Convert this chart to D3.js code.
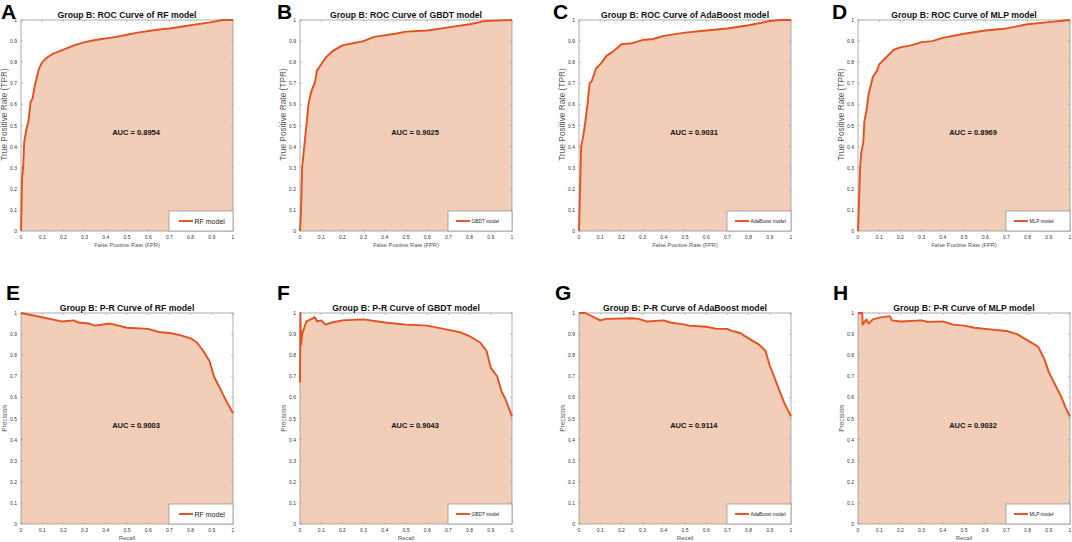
<!DOCTYPE html>
<html>
<head>
<meta charset="utf-8">
<script src="https://cdn.jsdelivr.net/npm/d3@7"></script>
<style>
  body { margin: 0; background: #fff; }
  svg { display: block; font-family: "Liberation Sans", Arial, sans-serif; }
</style>
</head>
<body>
<div id="chart"></div>
<script>
// ---- data: [x, y] points ----
const rocRF = [[0,0],[0.005,0.25],[0.01,0.3],[0.015,0.42],[0.025,0.48],[0.035,0.52],[0.045,0.61],[0.055,0.63],[0.065,0.69],[0.075,0.73],[0.085,0.77],[0.1,0.8],[0.12,0.82],[0.15,0.84],[0.2,0.86],[0.25,0.88],[0.3,0.895],[0.35,0.905],[0.45,0.92],[0.5,0.93],[0.55,0.94],[0.65,0.955],[0.7,0.96],[0.8,0.975],[0.9,0.99],[0.95,1],[1,1]];
const rocGBDT = [[0,0],[0.005,0.1],[0.01,0.3],[0.02,0.4],[0.03,0.5],[0.04,0.6],[0.05,0.65],[0.06,0.68],[0.07,0.7],[0.08,0.76],[0.1,0.79],[0.12,0.82],[0.15,0.85],[0.2,0.88],[0.25,0.89],[0.3,0.9],[0.35,0.92],[0.45,0.935],[0.5,0.945],[0.6,0.95],[0.7,0.965],[0.8,0.98],[0.87,0.995],[1,1]];
const rocAda = [[0,0],[0.005,0.2],[0.01,0.4],[0.02,0.45],[0.03,0.52],[0.04,0.6],[0.05,0.7],[0.06,0.71],[0.08,0.77],[0.1,0.79],[0.13,0.83],[0.16,0.85],[0.2,0.885],[0.25,0.89],[0.3,0.905],[0.35,0.91],[0.4,0.925],[0.5,0.94],[0.6,0.95],[0.7,0.96],[0.8,0.975],[0.9,0.995],[0.95,1],[1,1]];
const rocMLP = [[0,0],[0.005,0.15],[0.01,0.3],[0.015,0.37],[0.025,0.42],[0.03,0.52],[0.04,0.57],[0.05,0.65],[0.06,0.69],[0.07,0.73],[0.09,0.76],[0.1,0.79],[0.13,0.82],[0.17,0.86],[0.2,0.87],[0.25,0.88],[0.3,0.895],[0.35,0.9],[0.4,0.915],[0.5,0.935],[0.6,0.95],[0.7,0.96],[0.8,0.98],[0.9,0.99],[1,1]];

const prRF = [[0,1],[0.1,0.98],[0.19,0.96],[0.25,0.965],[0.27,0.955],[0.32,0.95],[0.35,0.94],[0.42,0.95],[0.5,0.93],[0.6,0.925],[0.65,0.91],[0.7,0.905],[0.75,0.895],[0.8,0.88],[0.83,0.86],[0.86,0.82],[0.89,0.77],[0.91,0.7],[0.93,0.66],[0.95,0.62],[0.97,0.58],[1,0.525]];
const prGBDT = [[0,0.67],[0.002,1],[0.005,0.85],[0.01,0.9],[0.03,0.96],[0.06,0.975],[0.07,0.98],[0.08,0.96],[0.1,0.965],[0.12,0.945],[0.15,0.955],[0.2,0.965],[0.3,0.97],[0.4,0.955],[0.5,0.945],[0.6,0.94],[0.7,0.92],[0.75,0.91],[0.8,0.89],[0.85,0.86],[0.88,0.82],[0.9,0.74],[0.93,0.7],[0.95,0.63],[0.97,0.59],[1,0.51]];
const prAda = [[0,1],[0.03,1],[0.1,0.965],[0.13,0.972],[0.25,0.975],[0.28,0.972],[0.32,0.96],[0.4,0.965],[0.43,0.955],[0.5,0.945],[0.52,0.94],[0.6,0.935],[0.65,0.925],[0.7,0.925],[0.72,0.915],[0.76,0.905],[0.8,0.88],[0.85,0.85],[0.88,0.82],[0.9,0.75],[0.92,0.7],[0.95,0.62],[0.97,0.57],[1,0.51]];
const prMLP = [[0,1],[0.02,1],[0.022,0.945],[0.04,0.97],[0.05,0.95],[0.07,0.97],[0.1,0.978],[0.15,0.985],[0.16,0.965],[0.2,0.96],[0.3,0.965],[0.33,0.958],[0.4,0.96],[0.45,0.945],[0.5,0.94],[0.55,0.93],[0.6,0.925],[0.7,0.915],[0.75,0.9],[0.8,0.87],[0.85,0.84],[0.88,0.78],[0.9,0.72],[0.93,0.66],[0.96,0.6],[0.98,0.55],[1,0.51]];

const models = ["RF", "GBDT", "AdaBoost", "MLP"];
const rocAUC = ["0.8954", "0.9025", "0.9031", "0.8969"];
const prAUC = ["0.9003", "0.9043", "0.9114", "0.9032"];
const tickValues = [0, 0.1, 0.2, 0.3, 0.4, 0.5, 0.6, 0.7, 0.8, 0.9, 1];

const panels = [
  { letter: "A", kind: "ROC", model: 0, data: rocRF, auc: rocAUC[0] },
  { letter: "B", kind: "ROC", model: 1, data: rocGBDT, auc: rocAUC[1] },
  { letter: "C", kind: "ROC", model: 2, data: rocAda, auc: rocAUC[2] },
  { letter: "D", kind: "ROC", model: 3, data: rocMLP, auc: rocAUC[3] },
  { letter: "E", kind: "P-R", model: 0, data: prRF, auc: prAUC[0] },
  { letter: "F", kind: "P-R", model: 1, data: prGBDT, auc: prAUC[1] },
  { letter: "G", kind: "P-R", model: 2, data: prAda, auc: prAUC[2] },
  { letter: "H", kind: "P-R", model: 3, data: prMLP, auc: prAUC[3] }
];

// layout
const W = 1072, H = 542;
const colLeft = [21, 300, 579, 858];
const rowTop = [20, 313];
const letterX = [[1, 277, 553, 832], [6, 277, 555, 833]];
const letterY = [19, 300];
const pw = 212, ph = 211;
const lineColor = "#e5501c", fillColor = "#f2cdb8", boxColor = "#9a9a9a";

const svg = d3.select("#chart").append("svg")
  .attr("width", W).attr("height", H);

panels.forEach((p, i) => {
  const col = i % 4, row = Math.floor(i / 4);
  const left = colLeft[col], top = rowTop[row];
  const x = d3.scaleLinear().domain([0, 1]).range([0, pw]);
  const y = d3.scaleLinear().domain([0, 1]).range([ph, 0]);
  const g = svg.append("g").attr("transform", `translate(${left},${top})`);

  // filled area under the curve
  g.append("path")
    .datum(p.data)
    .attr("fill", fillColor)
    .attr("d", d3.area().x(d => x(d[0])).y0(y(0)).y1(d => y(d[1])));

  // ticks inside on all four sides (matlab box)
  const tk = 2;
  tickValues.forEach(t => {
    g.append("line").attr("x1", x(t)).attr("x2", x(t)).attr("y1", ph).attr("y2", ph - tk).attr("stroke", boxColor).attr("stroke-width", 0.6);
    g.append("line").attr("x1", x(t)).attr("x2", x(t)).attr("y1", 0).attr("y2", tk).attr("stroke", boxColor).attr("stroke-width", 0.6);
    g.append("line").attr("y1", y(t)).attr("y2", y(t)).attr("x1", 0).attr("x2", tk).attr("stroke", boxColor).attr("stroke-width", 0.6);
    g.append("line").attr("y1", y(t)).attr("y2", y(t)).attr("x1", pw).attr("x2", pw - tk).attr("stroke", boxColor).attr("stroke-width", 0.6);
  });

  g.append("rect").attr("width", pw).attr("height", ph)
    .attr("fill", "none").attr("stroke", boxColor).attr("stroke-width", 0.8);

  g.append("path")
    .datum(p.data)
    .attr("fill", "none")
    .attr("stroke", lineColor)
    .attr("stroke-width", 1.9)
    .attr("stroke-linejoin", "round")
    .attr("d", d3.line().x(d => x(d[0])).y(d => y(d[1])));

  // tick labels
  g.selectAll("text.xt").data(tickValues).join("text")
    .attr("x", d => x(d)).attr("y", ph + 8)
    .attr("text-anchor", "middle").attr("font-size", 5).attr("fill", "#333")
    .text(d => d3.format("~g")(d));
  g.selectAll("text.yt").data(tickValues).join("text")
    .attr("x", -4).attr("y", d => y(d) + 2)
    .attr("text-anchor", "end").attr("font-size", 5).attr("fill", "#333")
    .text(d => d3.format("~g")(d));

  // axis labels
  const roc = p.kind === "ROC";
  g.append("text").attr("x", pw / 2).attr("y", ph + 15.5)
    .attr("text-anchor", "middle").attr("font-size", roc ? 5.7 : 6).attr("fill", "#555")
    .text(roc ? "False Positive Rate (FPR)" : "Recall");
  g.append("text").attr("transform", `translate(-14,${roc ? ph / 2 - 11 : ph / 2}) rotate(-90)`)
    .attr("text-anchor", "middle").attr("font-size", roc ? 8.3 : 6.5).attr("fill", "#555")
    .text(roc ? "True Positive Rate (TPR)" : "Precision");

  // title
  g.append("text").attr("x", pw / 2).attr("y", -2)
    .attr("text-anchor", "middle").attr("font-size", 8.7).attr("font-weight", "bold").attr("fill", "#111")
    .text(`Group B: ${p.kind} Curve of ${models[p.model]} model`);

  // AUC label
  g.append("text").attr("x", x(0.43)).attr("y", y(0.47) + 3)
    .attr("font-size", 7.5).attr("font-weight", "bold").attr("fill", "#111")
    .text(`AUC = ${p.auc}`);

  // legend
  const lw = 64, lh = 20, big = p.model === 0;
  const lg = g.append("g").attr("transform", `translate(${pw - lw},${ph - lh})`);
  lg.append("rect").attr("width", lw).attr("height", lh)
    .attr("fill", "#fff").attr("stroke", boxColor).attr("stroke-width", 0.8);
  lg.append("line").attr("x1", big ? 10 : 8).attr("x2", big ? 24 : 22).attr("y1", lh / 2).attr("y2", lh / 2)
    .attr("stroke", lineColor).attr("stroke-width", 1.9);
  lg.append("text").attr("x", big ? 25.5 : 23.5).attr("y", lh / 2 + (big ? 2.5 : 1.7))
    .attr("font-size", big ? 7 : 4.8).attr("fill", "#222")
    .text(`${models[p.model]} model`);

  // panel letter
  svg.append("text")
    .attr("x", letterX[row][col])
    .attr("y", letterY[row])
    .attr("font-size", 21).attr("font-weight", "bold").attr("fill", "#000")
    .text(p.letter);
});
</script>
</body>
</html>
